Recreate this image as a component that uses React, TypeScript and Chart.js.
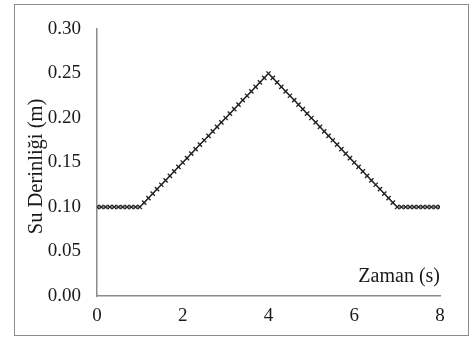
import React, { useEffect, useRef } from "react";
import { Chart, registerables } from "chart.js";

Chart.register(...registerables);

const timeS = [
  0.0, 0.1, 0.2, 0.3, 0.4, 0.5, 0.6, 0.7, 0.8, 0.9,
  1.0, 1.1, 1.2, 1.3, 1.4, 1.5, 1.6, 1.7, 1.8, 1.9,
  2.0, 2.1, 2.2, 2.3, 2.4, 2.5, 2.6, 2.7, 2.8, 2.9,
  3.0, 3.1, 3.2, 3.3, 3.4, 3.5, 3.6, 3.7, 3.8, 3.9,
  4.0, 4.1, 4.2, 4.3, 4.4, 4.5, 4.6, 4.7, 4.8, 4.9,
  5.0, 5.1, 5.2, 5.3, 5.4, 5.5, 5.6, 5.7, 5.8, 5.9,
  6.0, 6.1, 6.2, 6.3, 6.4, 6.5, 6.6, 6.7, 6.8, 6.9,
  7.0, 7.1, 7.2, 7.3, 7.4, 7.5, 7.6, 7.7, 7.8, 7.9,
  8.0,
];

const depthM = [
  0.1, 0.1, 0.1, 0.1, 0.1, 0.1, 0.1, 0.1, 0.1, 0.1,
  0.1, 0.105, 0.11, 0.115, 0.12, 0.125, 0.13, 0.135, 0.14, 0.145,
  0.15, 0.155, 0.16, 0.165, 0.17, 0.175, 0.18, 0.185, 0.19, 0.195,
  0.2, 0.205, 0.21, 0.215, 0.22, 0.225, 0.23, 0.235, 0.24, 0.245,
  0.25, 0.245, 0.24, 0.235, 0.23, 0.225, 0.22, 0.215, 0.21, 0.205,
  0.2, 0.195, 0.19, 0.185, 0.18, 0.175, 0.17, 0.165, 0.16, 0.155,
  0.15, 0.145, 0.14, 0.135, 0.13, 0.125, 0.12, 0.115, 0.11, 0.105,
  0.1, 0.1, 0.1, 0.1, 0.1, 0.1, 0.1, 0.1, 0.1, 0.1,
  0.1,
];

const xTickValues = [0, 2, 4, 6, 8];
const yTickValues = [0, 0.05, 0.1, 0.15, 0.2, 0.25, 0.3];
const xTitle = "Zaman (s)";
const yTitle = "Su Derinliği (m)";

const FONT = "'Liberation Serif', 'Times New Roman', serif";

export default function App() {
  const ref = useRef<HTMLCanvasElement | null>(null);

  useEffect(() => {
    document.body.style.margin = "0";
    const canvas = ref.current;
    if (!canvas) return;

    const titlesPlugin = {
      id: "axisTitles",
      afterDraw(chart: any) {
        const { ctx, chartArea } = chart;
        ctx.save();
        ctx.fillStyle = "#1a1a1a";
        ctx.font = `20px ${FONT}`;
        ctx.textAlign = "right";
        ctx.textBaseline = "alphabetic";
        ctx.fillText(xTitle, chartArea.right, chartArea.bottom - 14);
        ctx.restore();

        ctx.save();
        ctx.fillStyle = "#1a1a1a";
        ctx.font = `20.5px ${FONT}`;
        ctx.translate(chartArea.left - 55, (chartArea.top + chartArea.bottom) / 2 + 4);
        ctx.rotate(-Math.PI / 2);
        ctx.textAlign = "center";
        ctx.textBaseline = "alphabetic";
        ctx.fillText(yTitle, 0, 0);
        ctx.restore();
      },
    };

    const chart = new Chart(canvas, {
      type: "line",
      data: {
        datasets: [
          {
            data: timeS.map((t, i) => ({ x: t, y: depthM[i] })),
            borderColor: "#333333",
            borderWidth: 1.2,
            pointStyle: "crossRot",
            pointRadius: 3,
            pointBorderColor: "#222222",
            pointBorderWidth: 1.3,
            pointBackgroundColor: "#222222",
            fill: false,
            tension: 0,
          },
        ],
      },
      options: {
        responsive: false,
        animation: false,
        events: [],
        layout: { padding: { left: 0, top: 29, right: 32, bottom: 0 } },
        plugins: {
          legend: { display: false },
          tooltip: { enabled: false },
        },
        scales: {
          x: {
            type: "linear",
            min: 0,
            max: 8,
            afterBuildTicks: (axis: any) => {
              axis.ticks = xTickValues.map((v) => ({ value: v }));
            },
            afterFit: (axis: any) => {
              axis.height = 42;
            },
            grid: { display: false, drawTicks: false },
            border: { display: true, color: "#8a8a8a", width: 1.5 },
            ticks: {
              color: "#1a1a1a",
              font: { family: FONT, size: 19 },
              padding: 9,
              maxRotation: 0,
              callback: (v: any) => String(v),
            },
          },
          y: {
            type: "linear",
            min: 0,
            max: 0.3,
            afterBuildTicks: (axis: any) => {
              axis.ticks = yTickValues.map((v) => ({ value: v }));
            },
            afterFit: (axis: any) => {
              axis.width = 97;
            },
            grid: { display: false, drawTicks: false },
            border: { display: true, color: "#8a8a8a", width: 1.5 },
            ticks: {
              color: "#1a1a1a",
              font: { family: FONT, size: 19 },
              padding: 16,
              callback: (v: any) => Number(v).toFixed(2),
            },
          },
        },
      },
      plugins: [titlesPlugin],
    } as any);

    return () => chart.destroy();
  }, []);

  return (
    <div style={{ position: "relative", width: 472, height: 338, background: "#fff" }}>
      <div
        style={{
          position: "absolute",
          left: 14,
          top: 4,
          width: 455,
          height: 332,
          border: "1.5px solid #8c8c8c",
          boxSizing: "border-box",
        }}
      />
      <canvas
        ref={ref}
        width={472}
        height={338}
        style={{ position: "absolute", left: 0, top: 0, width: 472, height: 338 }}
      />
    </div>
  );
}
